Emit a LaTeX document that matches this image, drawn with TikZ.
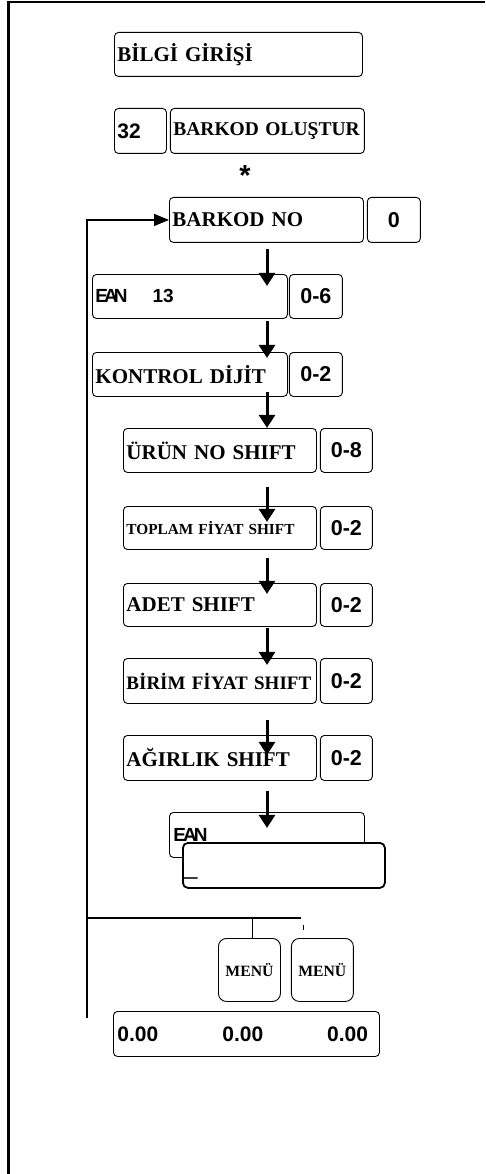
\documentclass[tikz,border=0pt]{standalone}
\usepackage{fontspec}
\setmainfont{Liberation Serif}
\setsansfont{Liberation Sans}
\usetikzlibrary{positioning,arrows.meta,calc}

\newcommand{\keyfont}{\fontsize{21}{24}\selectfont\bfseries}
\newcommand{\numfont}{\fontsize{21}{24}\selectfont\sffamily\bfseries}
\newcommand{\eanfont}{\fontsize{19}{22}\selectfont\sffamily\bfseries}

\tikzset{
  menubox/.style={draw,rounded corners=4pt,line width=0.9pt,anchor=north west,
    inner xsep=3pt,inner ysep=0pt,align=left,font=\keyfont},
  valbox/.style={draw,rounded corners=4pt,line width=0.9pt,inner sep=0pt,
    align=center,font=\fontsize{21.5}{24}\selectfont\sffamily\bfseries},
  keybox/.style={draw,rounded corners=8pt,line width=0.9pt,inner sep=0pt,
    minimum width=62pt,minimum height=63pt,font=\fontsize{15.7}{18}\selectfont\bfseries},
  flowarrow/.style={line width=3pt,-{Triangle[length=13pt,width=16pt]}},
  backline/.style={line width=1.5pt},
  outline/.style={line width=2.5pt}
}

\begin{document}
\begin{tikzpicture}[x=1pt,y=-1pt]
\useasboundingbox (0,0) rectangle (485,1174);
\draw[outline] (485,2) -- (8.5,2) -- (8.5,1174);

% Header
\node[menubox,text width=242pt,minimum height=44pt] (info) at (114,32) {BİLGİ GİRİŞİ};
\node[menubox,font=\numfont,text width=46pt,minimum height=45pt] (n32) at (114,108) {32};
\node[menubox,text width=188pt,minimum height=45pt,font=\fontsize{19.5}{22}\selectfont\bfseries,right=3pt of n32] (create) {BARKOD OLUŞTUR};
\node[font=\fontsize{29}{32}\selectfont\sffamily\bfseries,anchor=base,inner sep=0pt] (star) at (245,186) {*};

% Steps
\node[menubox,text width=188pt,minimum height=45pt] (bno) at (169,197) {BARKOD NO};
\node[valbox,minimum width=53pt,minimum height=45pt,right=3pt of bno] (bnoval) {0};
\node[menubox,font=\eanfont,text width=189pt,minimum height=44pt] (ean) at (92,274) {E\kern-4pt A\kern-4pt N\hspace{25pt}13};
\node[valbox,minimum width=53pt,minimum height=44pt,right=1pt of ean] (eanval) {0-6};
\node[menubox,text width=189pt,minimum height=44pt] (kontrol) at (92,352) {KONTROL DİJİT};
\node[valbox,minimum width=53pt,minimum height=44pt,right=1pt of kontrol] (kontrolval) {0-2};
\node[menubox,text width=187pt,minimum height=44pt] (urun) at (123,428) {ÜRÜN NO SHIFT};
\node[valbox,minimum width=52pt,minimum height=44pt,right=3pt of urun] (urunval) {0-8};
\node[menubox,text width=187pt,minimum height=43pt,font=\fontsize{15.3}{18}\selectfont\bfseries] (toplam) at (123,506) {TOPLAM FİYAT SHIFT};
\node[valbox,minimum width=52pt,minimum height=43pt,right=3pt of toplam] (toplamval) {0-2};
\node[menubox,text width=187pt,minimum height=43pt] (adet) at (123,583) {ADET SHIFT};
\node[valbox,minimum width=52pt,minimum height=43pt,right=3pt of adet] (adetval) {0-2};
\node[menubox,text width=187pt,minimum height=45pt,font=\fontsize{19}{22}\selectfont\bfseries] (birim) at (123,658) {BİRİM FİYAT SHIFT};
\node[valbox,minimum width=52pt,minimum height=45pt,right=3pt of birim] (birimval) {0-2};
\node[menubox,text width=187pt,minimum height=45pt] (agirlik) at (123,735) {AĞIRLIK SHIFT};
\node[valbox,minimum width=52pt,minimum height=45pt,right=3pt of agirlik] (agirlikval) {0-2};

% Display
\node[menubox,font=\eanfont,inner xsep=4pt,text width=187pt,minimum height=45pt] (eanback) at (169,812) {E\kern-3pt A\kern-3pt N};
\node[draw,rounded corners=5pt,line width=1.8pt,fill=white,anchor=north west,
  minimum width=202pt,minimum height=45pt,inner sep=0pt] (eanfront) at (182,842) {};
\node[font=\fontsize{24}{26}\selectfont\sffamily,anchor=base west,inner sep=0pt] (cursor) at (184,874) {\_};

% Keys
\node[keybox,anchor=north west] (menu1) at (218,938) {MENÜ};
\node[keybox,right=10pt of menu1] (menu2) {MENÜ};
\node[menubox,font=\numfont,inner xsep=4pt,text width=258pt,minimum height=45pt] (totals) at (113,1011) {0.00\hspace{64pt}0.00\hspace{64pt}0.00};

% Return line
\coordinate (loopstart) at (87,1018);
\coordinate (tee) at (87,918);
\coordinate (teeend) at (301,918);
\coordinate (tick) at (303,925);
\draw[backline,-{Triangle[length=15pt,width=12pt]}] (loopstart) |- (bno.west);
\draw[backline] (tee) -- (teeend);
\draw[backline] ([xshift=3pt]menu1.north |- tee) -- ([xshift=3pt]menu1.north);
\draw[line width=1pt] (tick) -- ++(0,5);

% Arrows
\coordinate (ax) at (267,0);
\draw[flowarrow] ($(ax |- bno.south)+(0,6)$) -- ++(0,37);
\draw[flowarrow] ($(ax |- ean.south)+(0,2)$) -- ++(0,37);
\draw[flowarrow] ($(ax |- kontrol.south)+(0,-5)$) -- ++(0,36);
\draw[flowarrow] ($(ax |- urun.south)+(0,14)$) -- ++(0,35);
\draw[flowarrow] ($(ax |- toplam.south)+(0,8)$) -- ++(0,36);
\draw[flowarrow] ($(ax |- adet.south)+(0,1)$) -- ++(0,37);
\draw[flowarrow] ($(ax |- birim.south)+(0,16)$) -- ++(0,35);
\draw[flowarrow] ($(ax |- agirlik.south)+(0,10)$) -- ++(0,37);
\end{tikzpicture}
\end{document}
